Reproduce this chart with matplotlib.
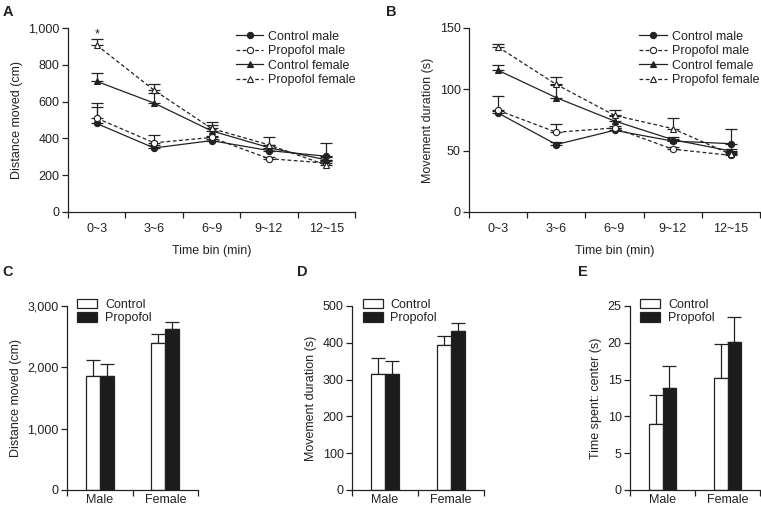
import numpy as np
import matplotlib
matplotlib.use("Agg")
import matplotlib.pyplot as plt

plt.rcParams["font.family"] = ["Liberation Sans", "DejaVu Sans"]
plt.rcParams["font.size"] = 9

INK = "#222222"

# ---- data ----
time_bins = ["0~3", "3~6", "6~9", "9~12", "12~15"]
series_names = ["Control male", "Propofol male", "Control female", "Propofol female"]

# A: distance moved (cm) per time bin
dist_ctrl_male = [481, 348, 388, 334, 303]
dist_prop_male = [510, 376, 405, 290, 266]
dist_ctrl_female = [710, 592, 441, 350, 283]
dist_prop_female = [907, 662, 454, 365, 255]
dist_ctrl_male_err = [91, 15, 10, 12, 72]
dist_prop_male_err = [80, 41, 10, 10, 15]
dist_ctrl_female_err = [43, 53, 32, 15, 15]
dist_prop_female_err = [31, 34, 35, 43, 20]

# B: movement duration (s) per time bin
dur_ctrl_male = [80.7, 55.0, 66.6, 57.8, 55.7]
dur_prop_male = [82.9, 65.0, 68.5, 51.2, 46.2]
dur_ctrl_female = [115.5, 93.2, 74.2, 59.0, 49.7]
dur_prop_female = [134.5, 104.0, 78.8, 68.0, 47.0]
dur_ctrl_male_err = [2, 2, 2, 2, 12.2]
dur_prop_male_err = [11.7, 6.5, 1.5, 1.5, 1.5]
dur_ctrl_female_err = [4.5, 10, 4, 2, 2]
dur_prop_female_err = [2.5, 6.0, 4.6, 8.6, 2]

# C-E: totals by sex
sexes = ["Male", "Female"]
total_dist_ctrl = [1860, 2390]
total_dist_prop = [1860, 2630]
total_dist_ctrl_err = [260, 160]
total_dist_prop_err = [200, 115]

total_dur_ctrl = [314, 394]
total_dur_prop = [314, 431]
total_dur_ctrl_err = [45, 25]
total_dur_prop_err = [36, 22]

center_ctrl = [9.0, 15.2]
center_prop = [13.8, 20.15]
center_ctrl_err = [3.9, 4.6]
center_prop_err = [3.0, 3.3]

W, H = 761, 508


def px_axes(fig, left, top, right, bottom):
    return fig.add_axes([left / W, 1 - bottom / H, (right - left) / W, (bottom - top) / H])


def style_axes(ax):
    for s in ("top", "right"):
        ax.spines[s].set_visible(False)
    for s in ("left", "bottom"):
        ax.spines[s].set_color(INK)
        ax.spines[s].set_linewidth(0.9)
    ax.tick_params(axis="y", direction="out", length=4, width=0.9, color=INK, labelcolor=INK, pad=2)
    ax.tick_params(axis="x", which="major", length=0, labelcolor=INK, pad=8)
    ax.tick_params(axis="x", which="minor", direction="out", length=4, width=0.9, color=INK)


def line_panel(ax, series, errs, ylim, yticks, yfmt, ylabel):
    x = np.arange(len(time_bins))
    styles = [
        dict(marker="o", mfc=INK, ls="-"),
        dict(marker="o", mfc="white", ls=(0, (3, 2))),
        dict(marker="^", mfc=INK, ls="-"),
        dict(marker="^", mfc="white", ls=(0, (3, 2))),
    ]
    for vals, err, name, st in zip(series, errs, series_names, styles):
        ax.errorbar(x, vals, yerr=[np.zeros(len(err)), err], fmt="none",
                    ecolor=INK, elinewidth=0.9, capsize=4, capthick=0.9, zorder=2)
        ax.plot(x, vals, color=INK, lw=0.9, ls=st["ls"], marker=st["marker"],
                ms=4.5, mfc=st["mfc"], mec=INK, mew=0.8, label=name, zorder=3)
    ax.set_xlim(-0.5, len(time_bins) - 0.5)
    ax.set_xticks(x)
    ax.set_xticklabels(time_bins)
    ax.set_xticks(np.arange(-0.5, len(time_bins)), minor=True)
    ax.set_ylim(*ylim)
    ax.set_yticks(yticks)
    ax.set_yticklabels([yfmt(v) for v in yticks])
    ax.set_xlabel("Time bin (min)", color=INK, labelpad=7)
    ax.set_ylabel(ylabel, color=INK)
    style_axes(ax)
    ax.legend(loc="upper left", bbox_to_anchor=(0.585, 0.985), frameon=False,
              handlelength=2.2, handletextpad=0.4, labelspacing=0.2,
              borderpad=0, borderaxespad=0, labelcolor=INK)


def bar_panel(ax, ctrl, prop, ctrl_err, prop_err, ylim, yticks, yfmt, ylabel):
    x = np.arange(len(sexes))
    w = 0.214
    ax.bar(x - w / 2, ctrl, w, color="white", edgecolor=INK, lw=0.9, label="Control", zorder=2)
    ax.bar(x + w / 2, prop, w, color="#1c1c1c", edgecolor=INK, lw=0.9, label="Propofol", zorder=2)
    ax.errorbar(x - w / 2, ctrl, yerr=[np.zeros(len(ctrl_err)), ctrl_err], fmt="none",
                ecolor=INK, elinewidth=0.9, capsize=5, capthick=0.9, zorder=1)
    ax.errorbar(x + w / 2, prop, yerr=[np.zeros(len(prop_err)), prop_err], fmt="none",
                ecolor=INK, elinewidth=0.9, capsize=5, capthick=0.9, zorder=1)
    ax.set_xlim(-0.5, len(sexes) - 0.5)
    ax.set_xticks(x)
    ax.set_xticklabels(sexes)
    ax.set_xticks(np.arange(-0.5, len(sexes)), minor=True)
    ax.set_ylim(*ylim)
    ax.set_yticks(yticks)
    ax.set_yticklabels([yfmt(v) for v in yticks])
    ax.set_ylabel(ylabel, color=INK)
    style_axes(ax)
    ax.tick_params(axis="x", which="major", pad=3)
    ax.legend(loc="upper left", bbox_to_anchor=(0.08, 1.04), frameon=False,
              handlelength=1.6, handleheight=0.8, handletextpad=0.6, labelspacing=0.12,
              borderpad=0, borderaxespad=0, labelcolor=INK)


comma = lambda v: f"{int(v):,}"
plain = lambda v: f"{int(v)}"

fig = plt.figure(figsize=(W / 100, H / 100), dpi=100)

axA = px_axes(fig, 68, 28, 355, 212)
line_panel(axA, [dist_ctrl_male, dist_prop_male, dist_ctrl_female, dist_prop_female],
           [dist_ctrl_male_err, dist_prop_male_err, dist_ctrl_female_err, dist_prop_female_err],
           (0, 1000), np.arange(0, 1001, 200), comma, "Distance moved (cm)")
axA.text(0, 965, "*", ha="center", va="center", fontsize=9, color=INK)

axB = px_axes(fig, 469, 28, 760, 212)
line_panel(axB, [dur_ctrl_male, dur_prop_male, dur_ctrl_female, dur_prop_female],
           [dur_ctrl_male_err, dur_prop_male_err, dur_ctrl_female_err, dur_prop_female_err],
           (0, 150), np.arange(0, 151, 50), plain, "Movement duration (s)")

axC = px_axes(fig, 67, 306, 198, 490)
bar_panel(axC, total_dist_ctrl, total_dist_prop, total_dist_ctrl_err, total_dist_prop_err,
          (0, 3000), np.arange(0, 3001, 1000), comma, "Distance moved (cm)")

axD = px_axes(fig, 352, 306, 484, 490)
bar_panel(axD, total_dur_ctrl, total_dur_prop, total_dur_ctrl_err, total_dur_prop_err,
          (0, 500), np.arange(0, 501, 100), plain, "Movement duration (s)")

axE = px_axes(fig, 630, 306, 760, 490)
bar_panel(axE, center_ctrl, center_prop, center_ctrl_err, center_prop_err,
          (0, 25), np.arange(0, 26, 5), plain, "Time spent: center (s)")

for lab, (px, py) in zip("ABCDE", [(3, 12), (386, 12), (2, 272), (297, 272), (578, 272)]):
    fig.text(px / W, 1 - py / H, lab, fontsize=10.5, fontweight="bold", ha="left", va="center", color=INK)

fig.savefig("out.png", dpi=100)
